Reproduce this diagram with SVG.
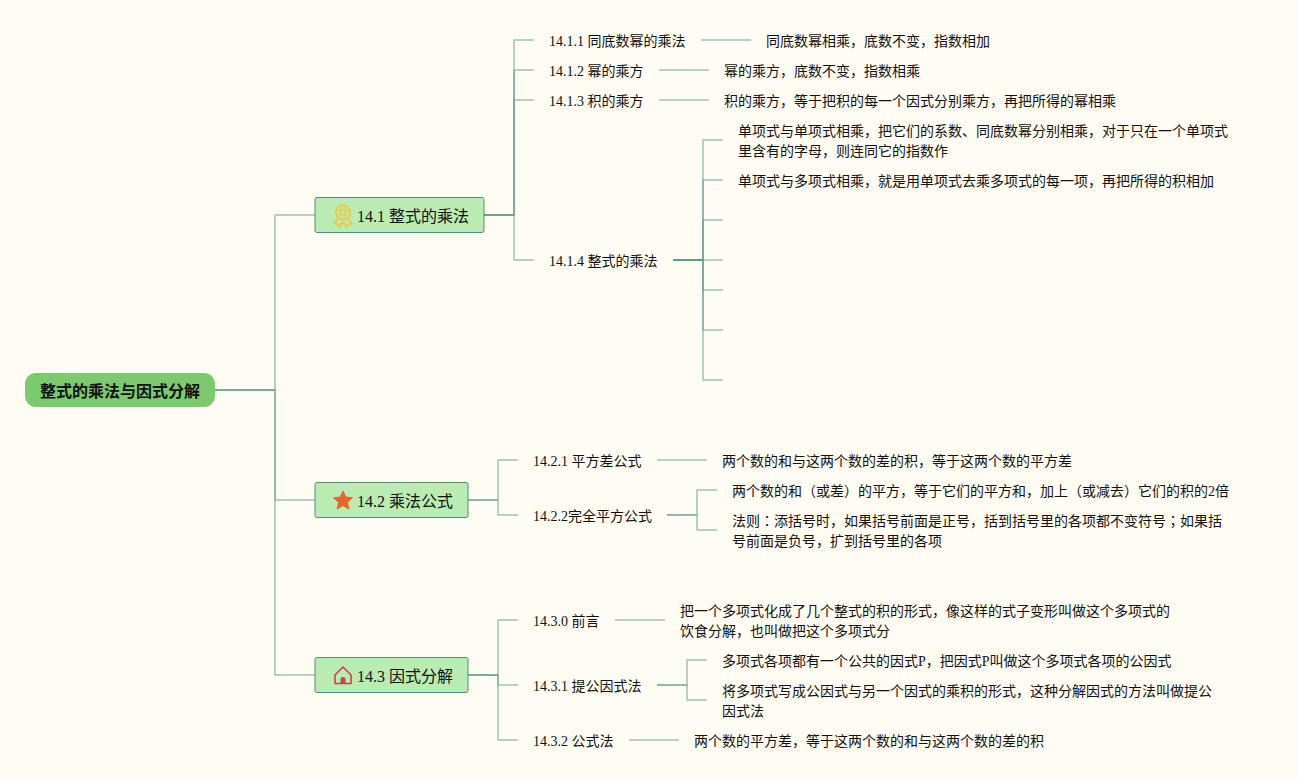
<svg xmlns="http://www.w3.org/2000/svg" width="1298" height="780" viewBox="0 0 1298 780">
<style>
text{font-family:"Liberation Serif","Noto Sans CJK SC",serif;fill:#111;font-size:14px}
.c path{fill:none;stroke:#5f9c8a;stroke-opacity:.6;stroke-width:1.5;stroke-linejoin:round}
.b{fill:#b9ebb3;stroke:#4f8f7c;stroke-width:1}
.t1{font-size:16px}
.tc{font-family:"Noto Sans CJK TC",sans-serif}
</style>
<rect width="1298" height="780" fill="#fffcf3"/>
<g class="c" id="connectors">
<path d="M215 390H275V215H315"/><path d="M215 390H275V500H315"/><path d="M215 390H275V675H315"/>
<path d="M484 215H514V40H534"/><path d="M484 215H514V70H534"/><path d="M484 215H514V100H534"/><path d="M484 215H514V260H534"/>
<path d="M701 40H751"/><path d="M659 70H709"/><path d="M659 100H709"/>
<path d="M673 260H703V140H723"/><path d="M673 260H703V180H723"/><path d="M673 260H703V220H723"/><path d="M673 260H723"/><path d="M673 260H703V290H723"/><path d="M673 260H703V330H723"/><path d="M673 260H703V380H723"/>
<path d="M468 500H498V460H518"/><path d="M468 500H498V515H518"/>
<path d="M657 460H707"/><path d="M667 515H697V490H717"/><path d="M667 515H697V530H717"/>
<path d="M468 675H498V620H518"/><path d="M468 675H498V685H518"/><path d="M468 675H498V740H518"/>
<path d="M615 620H665"/><path d="M657 685H687V660H707"/><path d="M657 685H687V700H707"/><path d="M629 740H679"/>
</g>
<g id="root"><rect x="25" y="373" width="190" height="34" rx="11" fill="#7bcb6d"/><text x="40" y="397" style="font-size:16px;font-weight:700">整式的乘法与因式分解</text></g>
<g id="n14-1"><rect class="b" x="315" y="197.500" width="169" height="35" rx="2"/>
<g fill="none" stroke="#efc93f" stroke-width="2"><circle cx="343" cy="212.500" r="7"/><circle cx="343" cy="212.500" r="3"/><path d="M338 219l-3.500 4.500 3 1 2 2.500 3-5M348 219l3.500 4.500-3 1-2 2.500-3-5"/></g>
<text class="t1" x="357" y="222">14.1 整式的乘法</text></g>
<g id="n14-2"><rect class="b" x="315" y="482.500" width="153" height="35" rx="2"/>
<path d="M343 491l2.800 6 6.700.8-5 4.500 1.400 6.700-5.900-3.400-5.900 3.400 1.400-6.700-5-4.500 6.700-.8z" fill="#e8672f" stroke="#e8672f" stroke-linejoin="round"/>
<text class="t1" x="357" y="507">14.2 乘法公式</text></g>
<g id="n14-3"><rect class="b" x="315" y="657.500" width="153" height="35" rx="2"/>
<path d="M335 675l8-8 8 8v8.500h-16z" fill="none" stroke="#cf3f4b" stroke-width="1.600" stroke-linejoin="round"/><path d="M340.500 683.500v-4a2.500 2.500 0 0 1 5 0v4z" fill="#cf3f4b"/>
<text class="t1" x="357" y="682">14.3 因式分解</text></g>
<g id="n14-1-1"><text x="549" y="46">14.1.1 同底数幂的乘法</text></g>
<g id="n14-1-1a"><text x="766" y="46">同底数幂相乘，底数不变，指数相加</text></g>
<g id="n14-1-2"><text x="549" y="76">14.1.2 幂的乘方</text></g>
<g id="n14-1-2a"><text x="724" y="76">幂的乘方，底数不变，指数相乘</text></g>
<g id="n14-1-3"><text x="549" y="106">14.1.3 积的乘方</text></g>
<g id="n14-1-3a"><text x="724" y="106">积的乘方，等于把积的每一个因式分别乘方，再把所得的幂相乘</text></g>
<g id="n14-1-4"><text x="549" y="266">14.1.4 整式的乘法</text></g>
<g id="n14-1-4a"><text x="738" y="136">单项式与单项式相乘，把它们的系数、同底数幂分别相乘，对于只在一个单项式</text><text x="738" y="156">里含有的字母，则连同它的指数作</text></g>
<g id="n14-1-4b"><text x="738" y="186">单项式与多项式相乘，就是用单项式去乘多项式的每一项，再把所得的积相加</text></g>
<g id="n14-2-1"><text x="533" y="466">14.2.1 平方差公式</text></g>
<g id="n14-2-1a"><text x="722" y="466">两个数的和与这两个数的差的积，等于这两个数的平方差</text></g>
<g id="n14-2-2"><text x="533" y="521">14.2.2完全平方公式</text></g>
<g id="n14-2-2a"><text x="732" y="496">两个数的和（或差）的平方，等于它们的平方和，加上（或减去）它们的积的2倍</text></g>
<g id="n14-2-2b"><text x="732" y="526">法则<tspan class="tc">：</tspan>添括号时，如果括号前面是正号，括到括号里的各项都不变符号<tspan class="tc">；</tspan>如果括</text><text x="732" y="546">号前面是负号，扩到括号里的各项</text></g>
<g id="n14-3-0"><text x="533" y="626">14.3.0 前言</text></g>
<g id="n14-3-0a"><text x="680" y="616">把一个多项式化成了几个整式的积的形式，像这样的式子变形叫做这个多项式的</text><text x="680" y="636">饮食分解，也叫做把这个多项式分</text></g>
<g id="n14-3-1"><text x="533" y="691">14.3.1 提公因式法</text></g>
<g id="n14-3-1a"><text x="722" y="666">多项式各项都有一个公共的因式P，把因式P叫做这个多项式各项的公因式</text></g>
<g id="n14-3-1b"><text x="722" y="696">将多项式写成公因式与另一个因式的乘积的形式，这种分解因式的方法叫做提公</text><text x="722" y="716">因式法</text></g>
<g id="n14-3-2"><text x="533" y="746">14.3.2 公式法</text></g>
<g id="n14-3-2a"><text x="694" y="746">两个数的平方差，等于这两个数的和与这两个数的差的积</text></g>
</svg>
